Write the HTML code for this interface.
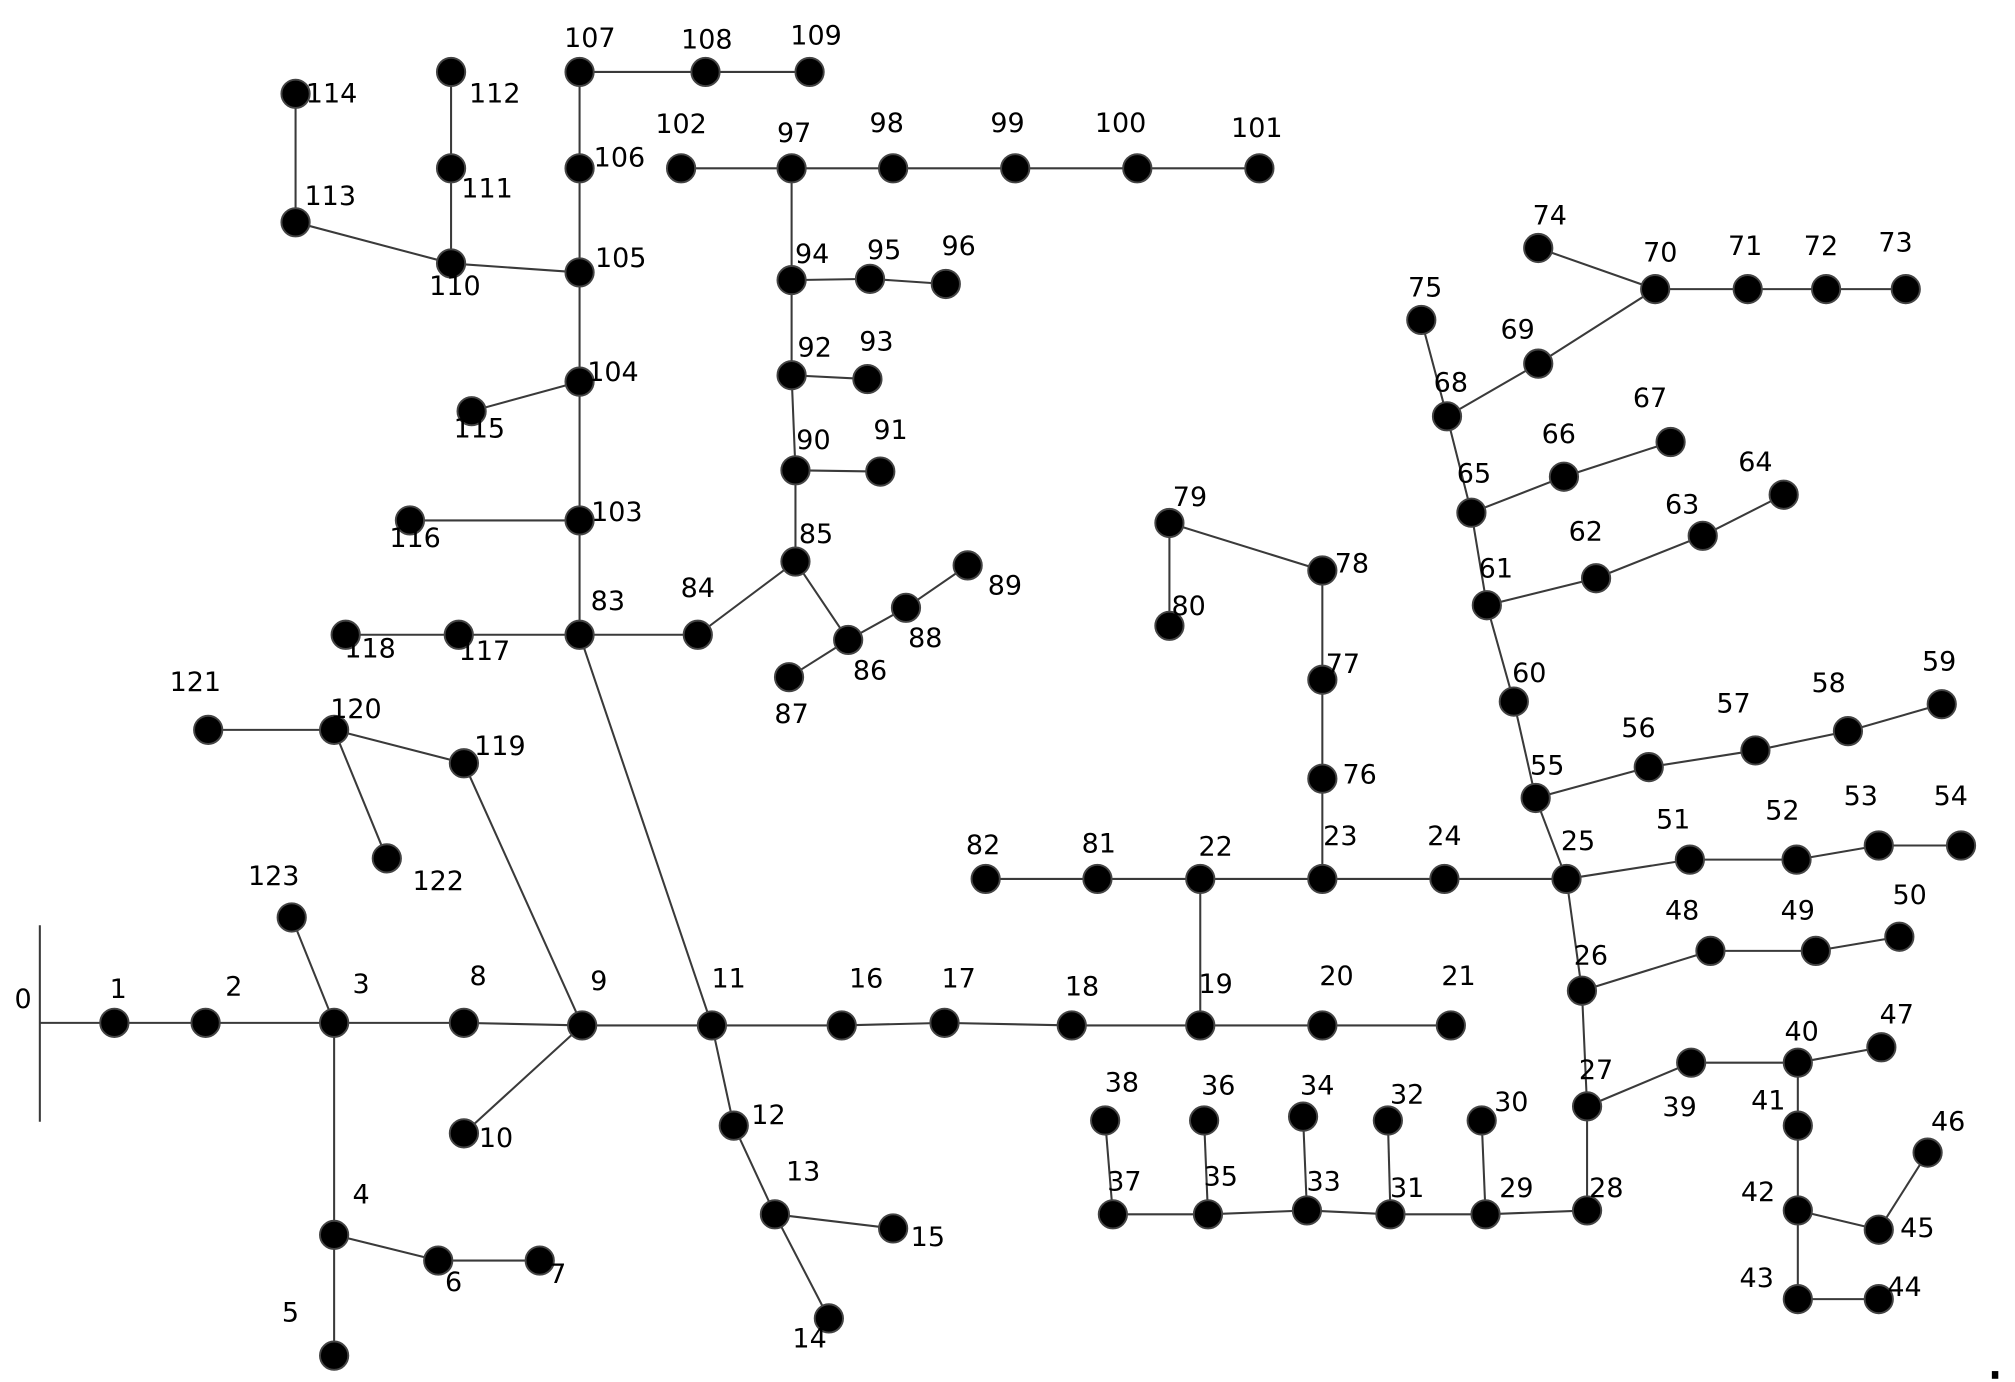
<!DOCTYPE html>
<html><head><meta charset="utf-8"><style>html,body{margin:0;padding:0;background:#fff}svg{display:block}</style></head>
<body>
<svg xmlns="http://www.w3.org/2000/svg" width="2015" height="1382" viewBox="0 0 1568 1075.5" preserveAspectRatio="none">
<rect width="1568" height="1076" fill="#fff"/>
<g stroke="#3a3a3a" stroke-width="1.6" fill="none">
<line x1="31" y1="720" x2="31" y2="873"/>
<polyline points="31,796 89,796 160,796 260,796 361,796 453,798 554,798 655,798 735,796 834,798 934,798 1029,798 1129,798"/>
<polyline points="227,714 260,796 260,961 260,1055"/>
<polyline points="260,961 341,981 420,981"/>
<polyline points="361,882 453,798 361,594 260,568 162,568"/>
<line x1="260" y1="568" x2="301" y2="668"/>
<polyline points="554,798 571,876 603,945 645,1026"/>
<line x1="603" y1="945" x2="695" y2="956"/>
<polyline points="554,798 451,494 451,405 451,297 451,212 451,131 451,56 549,56 630,56"/>
<polyline points="269,494 357,494 451,494 543,494 619,437 660,498 705,473 753,440"/>
<line x1="660" y1="498" x2="614" y2="527"/>
<polyline points="619,437 619,366 616,292 616,218 616,131"/>
<line x1="619" y1="366" x2="685" y2="367"/>
<line x1="616" y1="292" x2="675" y2="295"/>
<polyline points="616,218 677,217 736,221"/>
<polyline points="530,131 616,131 695,131 790,131 885,131 980,131"/>
<line x1="451" y1="405" x2="319" y2="405"/>
<line x1="451" y1="297" x2="367" y2="320"/>
<polyline points="451,212 351,205 230,173 230,73"/>
<polyline points="351,205 351,131 351,56"/>
<polyline points="934,798 934,684"/>
<polyline points="767,684 854,684 934,684 1029,684 1124,684 1219,684"/>
<polyline points="1029,684 1029,606 1029,529 1029,444 910,407 910,487"/>
<polyline points="1219,684 1315,669 1398,669 1462,658 1526,658"/>
<polyline points="1219,684 1195,621 1178,546 1157,471 1145,399 1126,324 1106,249"/>
<polyline points="1195,621 1283,597 1366,584 1438,569 1511,548"/>
<polyline points="1157,471 1242,450 1325,417 1388,385"/>
<polyline points="1145,399 1217,371 1300,344"/>
<polyline points="1126,324 1197,283 1288,225 1360,225 1421,225 1483,225"/>
<line x1="1288" y1="225" x2="1197" y2="193"/>
<polyline points="1219,684 1231,771 1235,861 1235,942 1156,945 1082,945 1017,942 940,945 866,945 860,872"/>
<polyline points="1231,771 1331,740 1413,740 1478,729"/>
<line x1="1156" y1="945" x2="1153" y2="872"/>
<line x1="1082" y1="945" x2="1080" y2="872"/>
<line x1="1017" y1="942" x2="1014" y2="869"/>
<line x1="940" y1="945" x2="937" y2="872"/>
<polyline points="1235,861 1316,827 1399,827 1464,815"/>
<polyline points="1399,827 1399,876 1399,942 1399,1011 1462,1011"/>
<polyline points="1399,942 1462,957 1500,897"/>
</g>
<g fill="#000" stroke="#444" stroke-width="1.5">
<circle cx="89" cy="796" r="11"/><circle cx="160" cy="796" r="11"/><circle cx="260" cy="796" r="11"/><circle cx="361" cy="796" r="11"/><circle cx="453" cy="798" r="11"/><circle cx="361" cy="882" r="11"/><circle cx="554" cy="798" r="11"/><circle cx="655" cy="798" r="11"/><circle cx="735" cy="796" r="11"/><circle cx="834" cy="798" r="11"/><circle cx="934" cy="798" r="11"/><circle cx="1029" cy="798" r="11"/><circle cx="1129" cy="798" r="11"/>
<circle cx="260" cy="961" r="11"/><circle cx="260" cy="1055" r="11"/><circle cx="341" cy="981" r="11"/><circle cx="420" cy="981" r="11"/><circle cx="227" cy="714" r="11"/>
<circle cx="571" cy="876" r="11"/><circle cx="603" cy="945" r="11"/><circle cx="645" cy="1026" r="11"/><circle cx="695" cy="956" r="11"/>
<circle cx="451" cy="494" r="11"/><circle cx="357" cy="494" r="11"/><circle cx="269" cy="494" r="11"/><circle cx="543" cy="494" r="11"/><circle cx="619" cy="437" r="11"/><circle cx="660" cy="498" r="11"/><circle cx="614" cy="527" r="11"/><circle cx="705" cy="473" r="11"/><circle cx="753" cy="440" r="11"/>
<circle cx="619" cy="366" r="11"/><circle cx="685" cy="367" r="11"/><circle cx="616" cy="292" r="11"/><circle cx="675" cy="295" r="11"/><circle cx="616" cy="218" r="11"/><circle cx="677" cy="217" r="11"/><circle cx="736" cy="221" r="11"/>
<circle cx="616" cy="131" r="11"/><circle cx="695" cy="131" r="11"/><circle cx="790" cy="131" r="11"/><circle cx="885" cy="131" r="11"/><circle cx="980" cy="131" r="11"/><circle cx="530" cy="131" r="11"/>
<circle cx="451" cy="405" r="11"/><circle cx="319" cy="405" r="11"/><circle cx="451" cy="297" r="11"/><circle cx="367" cy="320" r="11"/><circle cx="451" cy="212" r="11"/><circle cx="351" cy="205" r="11"/><circle cx="230" cy="173" r="11"/><circle cx="230" cy="73" r="11"/><circle cx="351" cy="131" r="11"/><circle cx="351" cy="56" r="11"/><circle cx="451" cy="131" r="11"/><circle cx="451" cy="56" r="11"/><circle cx="549" cy="56" r="11"/><circle cx="630" cy="56" r="11"/>
<circle cx="260" cy="568" r="11"/><circle cx="162" cy="568" r="11"/><circle cx="361" cy="594" r="11"/><circle cx="301" cy="668" r="11"/>
<circle cx="934" cy="684" r="11"/><circle cx="854" cy="684" r="11"/><circle cx="767" cy="684" r="11"/><circle cx="1029" cy="684" r="11"/><circle cx="1124" cy="684" r="11"/><circle cx="1219" cy="684" r="11"/>
<circle cx="1029" cy="606" r="11"/><circle cx="1029" cy="529" r="11"/><circle cx="1029" cy="444" r="11"/><circle cx="910" cy="407" r="11"/><circle cx="910" cy="487" r="11"/>
<circle cx="1315" cy="669" r="11"/><circle cx="1398" cy="669" r="11"/><circle cx="1462" cy="658" r="11"/><circle cx="1526" cy="658" r="11"/>
<circle cx="1195" cy="621" r="11"/><circle cx="1283" cy="597" r="11"/><circle cx="1366" cy="584" r="11"/><circle cx="1438" cy="569" r="11"/><circle cx="1511" cy="548" r="11"/>
<circle cx="1178" cy="546" r="11"/><circle cx="1157" cy="471" r="11"/><circle cx="1242" cy="450" r="11"/><circle cx="1325" cy="417" r="11"/><circle cx="1388" cy="385" r="11"/>
<circle cx="1145" cy="399" r="11"/><circle cx="1217" cy="371" r="11"/><circle cx="1300" cy="344" r="11"/>
<circle cx="1126" cy="324" r="11"/><circle cx="1197" cy="283" r="11"/><circle cx="1288" cy="225" r="11"/><circle cx="1360" cy="225" r="11"/><circle cx="1421" cy="225" r="11"/><circle cx="1483" cy="225" r="11"/><circle cx="1197" cy="193" r="11"/><circle cx="1106" cy="249" r="11"/>
<circle cx="1231" cy="771" r="11"/><circle cx="1331" cy="740" r="11"/><circle cx="1413" cy="740" r="11"/><circle cx="1478" cy="729" r="11"/>
<circle cx="1235" cy="861" r="11"/><circle cx="1235" cy="942" r="11"/><circle cx="1156" cy="945" r="11"/><circle cx="1153" cy="872" r="11"/><circle cx="1082" cy="945" r="11"/><circle cx="1080" cy="872" r="11"/><circle cx="1017" cy="942" r="11"/><circle cx="1014" cy="869" r="11"/><circle cx="940" cy="945" r="11"/><circle cx="937" cy="872" r="11"/><circle cx="866" cy="945" r="11"/><circle cx="860" cy="872" r="11"/>
<circle cx="1316" cy="827" r="11"/><circle cx="1399" cy="827" r="11"/><circle cx="1399" cy="876" r="11"/><circle cx="1399" cy="942" r="11"/><circle cx="1399" cy="1011" r="11"/><circle cx="1462" cy="1011" r="11"/><circle cx="1462" cy="957" r="11"/><circle cx="1500" cy="897" r="11"/><circle cx="1464" cy="815" r="11"/>
</g>
<rect x="1550" y="1067" width="5" height="6" fill="#000"/>
<g font-family="'DejaVu Sans','Liberation Sans',sans-serif" font-size="21" fill="#000" text-anchor="middle" dominant-baseline="central">
<text x="18" y="778">0</text><text x="92" y="770">1</text><text x="182" y="768">2</text><text x="281" y="766">3</text><text x="372" y="760">8</text><text x="466" y="764">9</text><text x="386" y="886">10</text><text x="567" y="762">11</text><text x="674" y="762">16</text><text x="746" y="762">17</text><text x="842" y="768">18</text><text x="946" y="766">19</text><text x="1040" y="760">20</text><text x="1135" y="760">21</text>
<text x="281" y="930">4</text><text x="226" y="1022">5</text><text x="353" y="998">6</text><text x="434" y="992">7</text><text x="213" y="682">123</text>
<text x="598" y="868">12</text><text x="625" y="912">13</text><text x="630" y="1042">14</text><text x="722" y="963">15</text>
<text x="473" y="468">83</text><text x="377" y="507">117</text><text x="288" y="505">118</text><text x="543" y="458">84</text><text x="635" y="416">85</text><text x="677" y="522">86</text><text x="616" y="556">87</text><text x="720" y="497">88</text><text x="782" y="456">89</text>
<text x="633" y="343">90</text><text x="693" y="335">91</text><text x="634" y="271">92</text><text x="682" y="266">93</text><text x="632" y="198">94</text><text x="688" y="195">95</text><text x="746" y="192">96</text>
<text x="618" y="104">97</text><text x="690" y="96">98</text><text x="784" y="96">99</text><text x="872" y="96">100</text><text x="978" y="100">101</text><text x="530" y="97">102</text>
<text x="480" y="399">103</text><text x="323" y="419">116</text><text x="477" y="290">104</text><text x="373" y="334">115</text><text x="483" y="201">105</text><text x="354" y="223">110</text><text x="257" y="153">113</text><text x="258" y="73">114</text><text x="379" y="147">111</text><text x="385" y="73">112</text><text x="482" y="123">106</text><text x="459" y="30">107</text><text x="550" y="31">108</text><text x="635" y="28">109</text>
<text x="277" y="552">120</text><text x="152" y="531">121</text><text x="389" y="581">119</text><text x="341" y="686">122</text>
<text x="946" y="659">22</text><text x="855" y="657">81</text><text x="765" y="658">82</text><text x="1043" y="651">23</text><text x="1124" y="651">24</text><text x="1228" y="655">25</text>
<text x="1058" y="603">76</text><text x="1045" y="517">77</text><text x="1052" y="439">78</text><text x="926" y="387">79</text><text x="925" y="472">80</text>
<text x="1302" y="638">51</text><text x="1387" y="631">52</text><text x="1448" y="620">53</text><text x="1518" y="620">54</text>
<text x="1204" y="596">55</text><text x="1275" y="567">56</text><text x="1349" y="548">57</text><text x="1423" y="532">58</text><text x="1509" y="515">59</text>
<text x="1190" y="524">60</text><text x="1164" y="443">61</text><text x="1234" y="414">62</text><text x="1309" y="393">63</text><text x="1366" y="360">64</text>
<text x="1147" y="369">65</text><text x="1213" y="338">66</text><text x="1284" y="310">67</text><text x="1129" y="298">68</text><text x="1181" y="257">69</text><text x="1292" y="197">70</text><text x="1358" y="192">71</text><text x="1417" y="192">72</text><text x="1475" y="189">73</text><text x="1206" y="168">74</text><text x="1109" y="224">75</text>
<text x="1238" y="744">26</text><text x="1309" y="709">48</text><text x="1399" y="709">49</text><text x="1486" y="697">50</text>
<text x="1242" y="833">27</text><text x="1250" y="925">28</text><text x="1180" y="925">29</text><text x="1176" y="858">30</text><text x="1095" y="925">31</text><text x="1095" y="852">32</text><text x="1030" y="920">33</text><text x="1025" y="845">34</text><text x="950" y="916">35</text><text x="948" y="845">36</text><text x="875" y="920">37</text><text x="873" y="843">38</text>
<text x="1307" y="862">39</text><text x="1402" y="803">40</text><text x="1376" y="857">41</text><text x="1368" y="928">42</text><text x="1367" y="995">43</text><text x="1482" y="1002">44</text><text x="1492" y="956">45</text><text x="1516" y="873">46</text><text x="1476" y="790">47</text>
</g>
</svg>
</body></html>
